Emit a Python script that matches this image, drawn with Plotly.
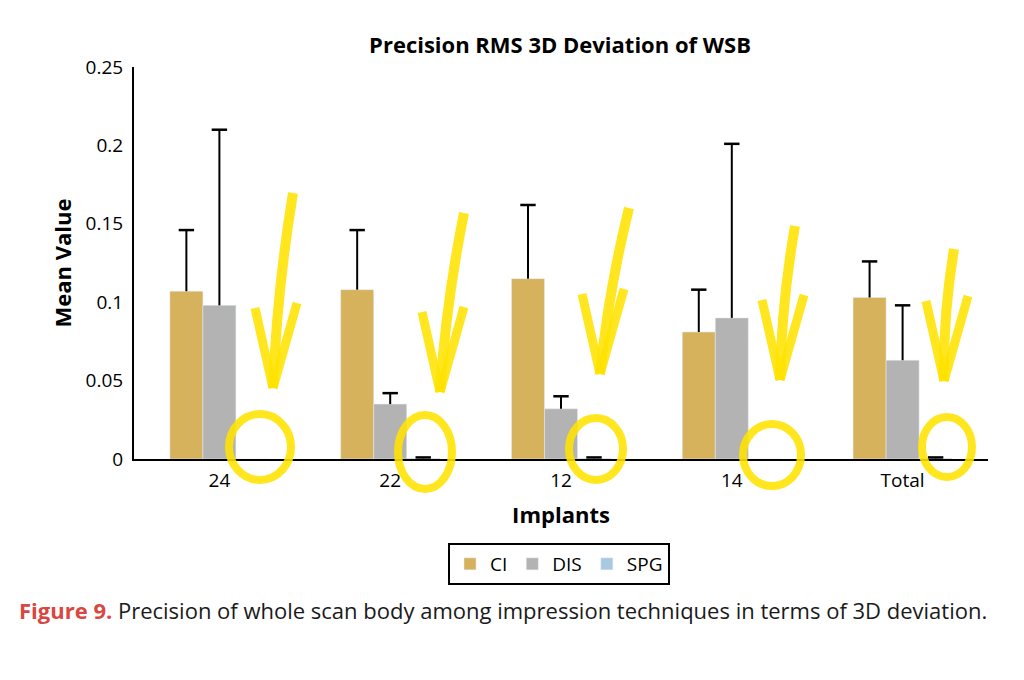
import plotly.graph_objects as go

categories = ["24", "22", "12", "14", "Total"]
ci_mean = [0.107, 0.108, 0.115, 0.081, 0.103]
ci_err = [0.039, 0.038, 0.047, 0.027, 0.023]
dis_mean = [0.098, 0.035, 0.032, 0.090, 0.063]
dis_err = [0.112, 0.007, 0.008, 0.111, 0.035]
spg_mean = [0.0, 0.0004, 0.0004, 0.0, 0.0004]
spg_err = [None, 0.0006, 0.0006, None, 0.0006]
y_ticks = [0, 0.05, 0.1, 0.15, 0.2, 0.25]
y_tick_labels = ["0", "0.05", "0.1", "0.15", "0.2", "0.25"]

# Hand-drawn highlighter marks (pixel positions on the page)
arrow_marks = [  # (top_x, top_y, tip_x, tip_y)
    (293, 193, 273, 388),
    (464, 213, 440, 392),
    (629, 208, 600, 374),
    (795, 226, 780, 380),
    (954, 249, 944, 381),
]
circle_marks = [  # (cx, cy, rx, ry)
    (260, 447, 31, 33),
    (425, 452, 27, 37),
    (596, 449, 27, 31),
    (772, 455, 29, 31),
    (947, 447, 25, 30),
]

OFF = 8  # page body margin
W, H = 1008, 664
PL, PT, PR, PB = 134, 67, 988, 459  # plot area on the page
L, T = PL - OFF, PT - OFF
R, B = W - (PR - OFF), H - (PB - OFF)
PW, PH = PR - PL, PB - PT


def px(x):
    return (x - PL) / PW


def py(y):
    return (PB - y) / PH


FONT = "Open Sans"

series = [
    ("CI", ci_mean, ci_err, "#d6b25c"),
    ("DIS", dis_mean, dis_err, "#b3b3b3"),
    ("SPG", spg_mean, spg_err, "#a9c8e2"),
]

fig = go.Figure()
for name, mean, err, color in series:
    fig.add_trace(go.Bar(
        name=name, x=categories, y=mean, marker_color=color, offsetgroup=name,
        error_y=dict(type="data", symmetric=False, array=err, arrayminus=[0] * len(err),
                     color="black", thickness=2, width=0)))
for name, mean, err, color in series:
    tops = [None if e is None else m + e for m, e in zip(mean, err)]
    fig.add_trace(go.Scatter(
        x=categories, y=tops, mode="markers", offsetgroup=name, showlegend=False,
        hoverinfo="skip",
        marker=dict(symbol="line-ew", size=11, color="black",
                    line=dict(width=2.5, color="black"))))

shapes = []
yellow = "rgba(255,226,0,0.88)"
for (tx, ty, bx, by) in arrow_marks:
    mx, my = (tx + bx) / 2 - 6, (ty + by) / 2
    path = f"M{px(tx)},{py(ty)} Q{px(mx)},{py(my)} {px(bx)},{py(by)}"
    shapes.append(dict(type="path", xref="paper", yref="paper", path=path,
                       line=dict(color=yellow, width=10), layer="above"))
    head_l = f"M{px(bx - 18)},{py(by - 80)} L{px(bx)},{py(by)}"
    head_r = f"M{px(bx + 24)},{py(by - 85)} L{px(bx)},{py(by)}"
    for hp in (head_l, head_r):
        shapes.append(dict(type="path", xref="paper", yref="paper", path=hp,
                           line=dict(color=yellow, width=9), layer="above"))
for (cx, cy, rx, ry) in circle_marks:
    shapes.append(dict(type="circle", xref="paper", yref="paper",
                       x0=px(cx - rx), x1=px(cx + rx), y0=py(cy + ry), y1=py(cy - ry),
                       line=dict(color=yellow, width=8), layer="above"))

fig.update_layout(
    width=W, height=H,
    margin=dict(l=L, r=R, t=T, b=B),
    paper_bgcolor="white", plot_bgcolor="white",
    font=dict(family=FONT, color="black", size=20),
    barmode="group", bargap=0.42, bargroupgap=0,
    scattermode="group", scattergap=0.42,
    title=dict(text="<b>Precision RMS 3D Deviation of WSB</b>", x=(560 - OFF) / W, xanchor="center",
               y=1 - (45 - OFF) / H, yanchor="middle", font=dict(size=22, family=FONT)),
    xaxis=dict(showline=True, linecolor="black", linewidth=2, ticks="",
               tickfont=dict(size=19), showgrid=False, ticklabelstandoff=3,
               title=dict(text="<b>Implants</b>", font=dict(size=22), standoff=16)),
    yaxis=dict(range=[0, 0.25], tickvals=y_ticks, ticktext=y_tick_labels,
               showline=True, linecolor="black", linewidth=2, ticks="",
               showgrid=False, zeroline=False, ticklabelstandoff=5,
               tickfont=dict(size=19),
               title=dict(text="<b>Mean Value</b>", font=dict(size=22), standoff=8)),
    legend=dict(orientation="h", x=px(559), xanchor="center", y=py(543), yanchor="top",
                bordercolor="black", borderwidth=2, font=dict(size=19),
                itemwidth=30, traceorder="normal"),
    shapes=shapes,
    annotations=[dict(
        xref="paper", yref="paper", x=px(17), y=py(610), xanchor="left", yanchor="middle",
        showarrow=False, align="left",
        text="<b><span style='color:#d9473f'>Figure 9.</span></b> Precision of whole scan body among impression techniques in terms of 3D deviation.",
        font=dict(size=22, family=FONT, color="#1a1a1a"))],
)

fig.write_html("out.html")
